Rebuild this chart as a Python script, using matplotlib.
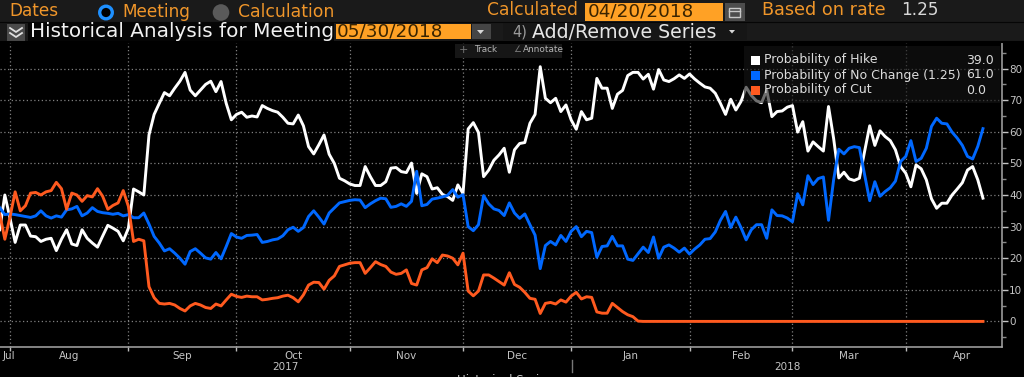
import numpy as np
import matplotlib
matplotlib.use('Agg')
import matplotlib.pyplot as plt
from matplotlib.patches import Rectangle, Circle

# --- data, one value per business day ---
hike = [29, 40, 32.7, 25, 30.5, 30.5, 27, 26.8, 25.3, 26, 26.3, 22.4, 26, 29, 24.5, 24,
        29, 26.3, 24.8, 23.5, 27, 30.4, 29.5, 28.5, 25.5, 29.5, 41.9, 41, 40, 59,
        65.5, 69, 72.4, 71.4, 73.8, 76, 78.8, 73.2, 71.4, 73.2, 75, 76, 72.7, 75.9, 69, 63.8,
        65.5, 66.2, 64.6, 65, 64.7, 68.3, 67.4, 66.7, 66.2, 64.6, 62.7, 62.5, 65.3, 61.9, 55.3, 53,
        55.9, 59, 52.9, 50, 45.3, 44.5, 43.5, 43, 43, 49, 45.8, 43, 43, 44.2, 48.5, 48.7,
        47.4, 47.1, 50.1, 40.5, 46.7, 45.8, 41.9, 42.3, 40.2, 39.5, 38.3, 43.2, 40.5, 60.9, 62.9, 59.8,
        45.8, 47.9, 51, 52.7, 54.8, 47.2, 54.3, 56.3, 56.6, 62.7, 65.5, 80.6, 70.6, 69.2, 70.6, 66.4,
        68.5, 63.8, 60.8, 66.4, 63.8, 64.3, 76.9, 73.8, 73.8, 67.4, 71.9, 73.1, 77.8, 78.8, 78.8, 76.7,
        78.2, 73.5, 79.7, 76.4, 75.9, 76.8, 78, 76.9, 78.3, 76.7, 75.4, 74.2, 73.8, 72.2, 69, 65.5,
        70.3, 66.9, 69.6, 74.1, 71.5, 69.8, 69.2, 73.2, 64.8, 66.4, 66.6, 67.8, 68.3, 59.9, 63.2, 53.9,
        56.8, 55.3, 53.9, 68, 57.8, 45.4, 47.2, 45.1, 44.6, 45.3, 53.7, 61.9, 55.7, 60.3, 58.5, 57.2,
        54.3, 49, 46.9, 42.6, 49.5, 48.3, 44.8, 38.8, 35.8, 37.4, 37.4, 40, 41.9, 43.9, 47.9, 49,
        44.8, 39]

no_change = [36, 33.8, 34, 33.8, 33.5, 33.2, 32.9, 33.4, 35, 33.4, 32.7, 33.4, 33, 35.3, 35.6, 36.4,
             33.4, 34.3, 36, 34.8, 34.4, 34.2, 33.9, 34.2, 33.4, 33.8, 32.8, 32.8, 34.3, 30.8,
             26.9, 24.8, 22.3, 23, 21.6, 20, 18.1, 22.1, 23, 21.6, 20.1, 19.7, 21.8, 19.8, 23.7, 27.8,
             26.7, 26.3, 27.2, 27.3, 27.5, 25, 25.3, 25.8, 26.1, 27.1, 29, 29.8, 28.5, 29.7, 33.2, 35,
             33, 30.8, 34.3, 35.9, 37.5, 37.9, 38.3, 38.5, 38.4, 36, 37.2, 38.2, 39, 38.8, 36.1, 36.4,
             37.2, 36.4, 38, 47.5, 36.6, 37, 38.7, 39, 39.4, 39.9, 41.7, 39.3, 40.1, 30, 28.7, 30.6,
             39.8, 37.2, 35.6, 35.1, 33.5, 37.5, 34.3, 32.6, 34, 30.6, 27.3, 16.7, 24, 25.3, 24.2, 27.2,
             25.3, 28.5, 30, 26.8, 28.5, 28.1, 20.3, 23.7, 23.9, 26.9, 23.9, 23.9, 19.7, 19.3, 21.4, 23.5,
             21.8, 26.7, 20, 23.5, 24.2, 23.2, 21.9, 23.2, 21.3, 22.9, 24.2, 26, 26.2, 28.3, 32, 34.8,
             29.7, 33, 29.7, 25.8, 29, 30.6, 30.6, 26.3, 35.3, 33.5, 33.4, 32.7, 31.5, 40.4, 36.9, 46.1,
             43.3, 45.2, 45.7, 32, 44.9, 54.5, 53, 54.8, 55.3, 55, 46.5, 38.2, 44.2, 39.6, 41.1, 42.3,
             44.4, 50.6, 52.2, 57.2, 50.6, 51.6, 54.8, 61.7, 64.3, 62.7, 62.5, 59.9, 58, 55.7, 52.2, 51.4,
             55.4, 61]

cut = [34, 26, 33, 41, 35, 36.6, 40.6, 40.8, 40, 41, 41.4, 44, 42, 35.5, 40.6, 40,
       38, 39.8, 39.4, 42, 39.6, 35.5, 36.7, 37.5, 41.4, 36.4, 25.3, 26, 25.5, 11,
       7.5, 5.7, 5.5, 5.7, 5.2, 4.1, 3.3, 4.9, 5.7, 5.2, 4.4, 4.1, 5.5, 4.9, 6.8, 8.6,
       7.9, 7.6, 8, 7.8, 7.8, 6.8, 7, 7.3, 7.5, 8, 8.3, 7.5, 6.2, 8.4, 11.5, 12.4,
       12.3, 10.2, 13, 14.4, 17.4, 17.9, 18.4, 18.6, 18.6, 15.2, 17, 18.9, 18, 17.4, 15.6, 14.9,
       15.2, 16.3, 12, 11.5, 16.3, 17, 19.8, 18.6, 21, 20.7, 20, 17.9, 21.6, 9.6, 8.1, 9.6,
       14.7, 14.7, 13.7, 12.6, 11.5, 15.4, 11.7, 10.8, 9.2, 7.3, 7, 2.5, 5.7, 6, 5.5, 6.8,
       6.1, 8, 9.2, 7.1, 7.8, 7.6, 3, 2.6, 2.6, 5.7, 4.4, 3.1, 2.1, 1.5, 0.1, 0,
       0, 0, 0, 0, 0, 0, 0, 0, 0, 0, 0, 0, 0, 0, 0, 0,
       0, 0, 0, 0, 0, 0, 0, 0, 0, 0, 0, 0, 0, 0, 0, 0,
       0, 0, 0, 0, 0, 0, 0, 0, 0, 0, 0, 0, 0, 0, 0, 0,
       0, 0, 0, 0, 0, 0, 0, 0, 0, 0, 0, 0, 0, 0, 0, 0,
       0, 0]

series_names = ['Probability of Hike', 'Probability of No Change (1.25)', 'Probability of Cut']
last_values = ['39.0', '61.0', '0.0']
month_names = ['Jul', 'Aug', 'Sep', 'Oct', 'Nov', 'Dec', 'Jan', 'Feb', 'Mar', 'Apr']
# day number where each month from Aug to Apr begins
month_starts = [2, 25, 46, 68, 90, 111, 134, 154, 176]

WHITE = '#ffffff'
BLUE = '#0068ff'
RED = '#ff5a1f'
AMBER = '#f0962a'
INPUT = '#ffa125'
BAR = '#1a1a1a'

W, H = 1024, 377
fig = plt.figure(figsize=(W / 100, H / 100), dpi=100, facecolor='black')

# --- main chart, x is the business day number ---
ax = fig.add_axes([0, 1 - 347 / H, 1002 / W, (347 - 43) / H], facecolor='black')
x = np.arange(len(hike))
ax.plot(x, hike, color=WHITE, lw=2.1, solid_joinstyle='round')
ax.plot(x, no_change, color=BLUE, lw=2.1, solid_joinstyle='round')
ax.plot(x, cut, color=RED, lw=2.1, solid_joinstyle='round')
ax.set_xlim(0.06, 194.7)
ax.set_ylim(-8.1, 88.1)

centers = [1.75] + [(a + b) / 2 for a, b in zip(month_starts[:-1], month_starts[1:])] + [187.0]

ax.yaxis.tick_right()
ax.set_yticks(np.arange(0, 81, 10))
ax.set_yticks(np.arange(-5, 86, 10), minor=True)
ax.set_xticks(month_starts)
ax.set_xticklabels([])
ax.set_xticks(centers, minor=True)
ax.set_xticklabels(month_names, minor=True)
ax.tick_params(axis='y', which='major', colors='#c4c4c4', labelsize=7.5, length=4, width=1, pad=1)
ax.tick_params(axis='y', which='minor', colors='#8a8a8a', length=3, width=1)
ax.tick_params(axis='x', which='major', colors='#bbbbbb', length=3, width=1)
ax.tick_params(axis='x', which='minor', colors='#c4c4c4', labelsize=7.5, length=0, pad=3)
ax.grid(True, which='major', color='#808080', linestyle=(0, (1, 2)), linewidth=0.9)
ax.set_axisbelow(True)
for side in ['top', 'left']:
    ax.spines[side].set_visible(False)
for side in ['right', 'bottom']:
    ax.spines[side].set_color('#a8a8a8')
    ax.spines[side].set_linewidth(1.1)

# --- everything around the chart goes on an overlay in pixel coordinates ---
ov = fig.add_axes([0, 0, 1, 1], facecolor='none')
ov.set_xlim(0, W)
ov.set_ylim(H, 0)
ov.axis('off')


def box(x0, y0, x1, y1, color, **kw):
    ov.add_patch(Rectangle((x0, y0), x1 - x0, y1 - y0, facecolor=color, edgecolor='none', **kw))


def label(px, py, s, color='#e8e8e8', size=12, ha='left', **kw):
    ov.text(px, py, s, color=color, fontsize=size, ha=ha, va='center', **kw)


# header bars
box(0, 0, W, 42, BAR)
ov.plot([0, W], [22, 22], color='#060606', lw=0.8)
ov.plot([0, W], [42, 42], color='#000000', lw=1.5)
box(28, 23, 334, 41, '#050505')

label(9, 11, 'Dates', AMBER, 12.2)
ov.add_patch(Circle((106, 12.5), 6.3, facecolor='black', edgecolor='#1e90ff', lw=2.4))
label(122, 12, 'Meeting', AMBER, 12.2)
ov.add_patch(Circle((221, 12.5), 8.3, facecolor='#5a5a5a', edgecolor='none'))
label(238, 12, 'Calculation', AMBER, 12.4)
label(487, 10, 'Calculated', AMBER, 12.3)
box(585, 3, 723, 21, INPUT)
label(588, 11.5, '04/20/2018', '#3a2400', 13.2)
box(725, 3, 745, 21, '#4d4d4d')
ov.add_patch(Rectangle((729, 8), 11, 9, facecolor='none', edgecolor='#c8c8c8', lw=1))
ov.plot([729, 740], [10.5, 10.5], color='#c8c8c8', lw=1)
label(762, 10, 'Based on rate', AMBER, 12.7)
label(901, 10, '1.25', '#d8d8d8', 12.2)

box(7, 24, 25, 41, '#4a4a4a')
for dy in [0, 5]:
    ov.plot([10, 16, 22], [28 + dy, 32 + dy, 28 + dy], color='#e0e0e0', lw=1.3)
label(30, 31.5, 'Historical Analysis for Meeting', '#f2f2f2', 14.4)
box(336, 24, 471, 39, INPUT)
label(337, 31, '05/30/2018', '#3a2400', 13.2)
box(472, 24, 491, 39, '#454545')
ov.fill([477, 484, 480.5], [30, 30, 34], color='#d8d8d8', lw=0)
box(503, 23, 747, 40, '#161616')
label(512, 32, '4)', '#9a9a9a', 10.5)
label(532, 32, 'Add/Remove Series', '#e6e6e6', 13.7)
ov.fill([729, 735, 732], [30, 30, 33.5], color='#d8d8d8', lw=0)

# track and annotate buttons
box(455, 44, 562, 58, '#161616')
label(474, 50, 'Track', '#b4b4b4', 6.4)
label(523, 50, 'Annotate', '#b4b4b4', 6.4)
label(459, 50, '+', '#777777', 8)
label(513, 50, '∠', '#777777', 6.4)

# legend panel, the hike line shows through it
box(744, 46, 1000, 103, '#151515', alpha=0.62)
for i, (name, val, col) in enumerate(zip(series_names, last_values, [WHITE, BLUE, RED])):
    yy = 60 + i * 15
    box(751, yy - 4.5, 760, yy + 4.5, col)
    label(763.5, yy, name, '#dcdcdc', 9.0)
    label(966, yy, val, '#dcdcdc', 9.0)

# year labels and the cut off line at the very bottom
label(285, 367, '2017', '#c4c4c4', 7.5, ha='center')
label(787, 367, '2018', '#c4c4c4', 7.5, ha='center')
ov.plot([572, 572], [360, 372], color='#777777', lw=1)
label(505, 380, 'Historical Series', '#c4c4c4', 8.5, ha='center', clip_on=True)

fig.savefig('out.png', dpi=100, facecolor='black')
